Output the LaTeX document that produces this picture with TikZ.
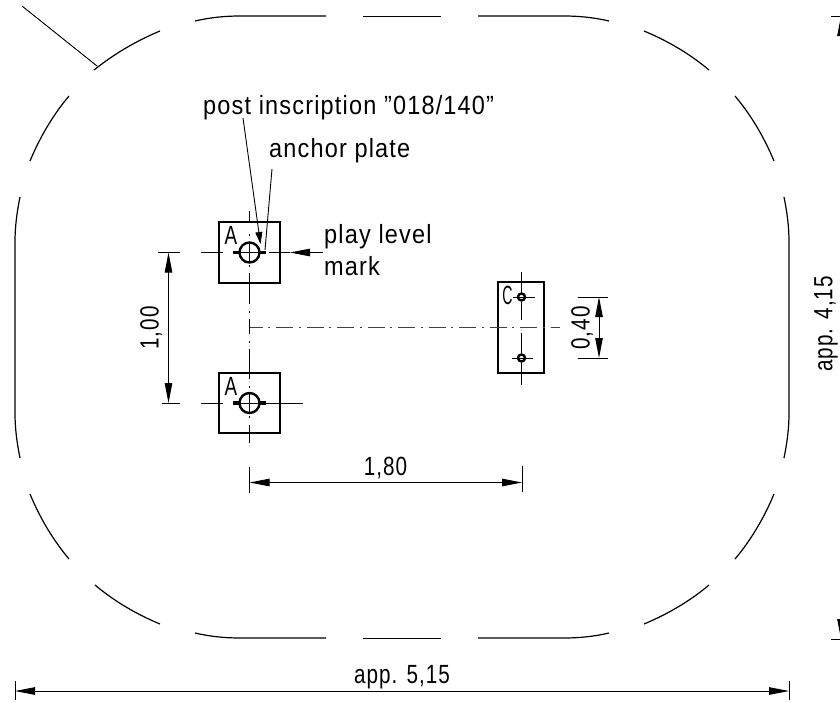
\documentclass[tikz,border=0pt]{standalone}
\usepackage{fontspec}
\setmainfont[LetterSpace=5]{Liberation Sans}
\usetikzlibrary{arrows.meta}
\tikzset{
  thin line/.style={line width=0.9pt,black},
  outline/.style={line width=1.2pt,black},
  thick line/.style={line width=2.4pt,black},
  stub/.style={line width=3.4pt,black},
  dimarrow/.style={line width=0.9pt,black,{Triangle[length=20pt,width=7.5pt]}-{Triangle[length=20pt,width=7.5pt]}},
  leader/.style={line width=0.9pt,black,-{Triangle[length=20pt,width=7.5pt]}},
  lbl/.style={inner sep=0pt,font=\fontsize{23.5}{28}\selectfont,yscale=1.12},
  num/.style={lbl,xscale=0.88},
  chain/.style={line width=0.9pt,black!75,dash pattern=on 17pt off 5.5pt on 2pt off 6pt,dash phase=4pt},
}
\begin{document}
\begin{tikzpicture}[x=1pt,y=-1pt]
\useasboundingbox (0,0) rectangle (840,702);
\begin{scope}
\clip (0,0) rectangle (840,702);
% outline pieces
\draw[outline] (195,21) .. controls (210,17.5) and (225,16) .. (240,16) -- (326,16);
\draw[thin line] (363,16) -- (441,16);
\draw[outline] (478,16) -- (564,16) .. controls (579,16) and (594,17.5) .. (609,21);
\draw[outline] (644,31) .. controls (668,41) and (690,54) .. (709,70);
\draw[outline] (735,96) .. controls (751,115) and (764,137) .. (774,161);
\draw[outline] (784,197) .. controls (787,212) and (789,226) .. (789,242) -- (789,413) .. controls (789,429) and (787,443) .. (784,458);
\draw[outline] (774,494) .. controls (764,518) and (751,540) .. (735,559);
\draw[outline] (709,585) .. controls (690,601) and (668,614) .. (644,624);
\draw[outline] (609,633) .. controls (594,636.5) and (579,638) .. (564,638) -- (478,638);
\draw[thin line] (441,638) -- (363,638);
\draw[outline] (326,638) -- (240,638) .. controls (225,638) and (210,636.5) .. (195,633);
\draw[outline] (160,624) .. controls (136,614) and (114,601) .. (95,585);
\draw[outline] (69,559) .. controls (53,540) and (40,518) .. (30,494);
\draw[outline] (20,458) .. controls (17,443) and (15,429) .. (15,413) -- (15,242) .. controls (15,226) and (17,212) .. (20,197);
\draw[outline] (30,161) .. controls (40,137) and (53,115) .. (69,96);
\draw[outline] (94,70) .. controls (114,54) and (136,41) .. (160,31);
\draw[thin line] (22,6) -- (97,66);
% plates
\draw[thick line] (219,222) rectangle (280,283);
\draw[thick line] (219,373) rectangle (280,433);
\draw[thick line] (498,282) rectangle (544,373);
% posts
\draw[thick line] (249.5,252.5) circle (10);
\draw[thick line] (249.5,403) circle (10);
\draw[stub] (233,252.5) -- (239,252.5) (260,252.5) -- (266,252.5);
\draw[stub] (233,403) -- (239,403) (260,403) -- (266,403);
\draw[thick line] (521.5,297) circle (3.5);
\draw[thick line] (521.5,358) circle (3.5);
% centre lines, post A upper
\draw[thin line] (201,252.5) -- (223,252.5) (239,252.5) -- (260,252.5) (269,252.5) -- (290,252.5);
\draw[thin line] (249.5,211) -- (249.5,223) (249.5,234) -- (249.5,236) (249.5,242) -- (249.5,263) (249.5,265) -- (249.5,267) (249.5,273) -- (249.5,304);
\draw[thin line] (249.5,311) -- (249.5,313) (249.5,319) -- (249.5,334) (249.5,341) -- (249.5,343) (249.5,349) -- (249.5,373);
% centre lines, post A lower
\draw[thin line] (201,403) -- (223,403) (239,403) -- (260,403) (266,403) -- (303,403);
\draw[thin line] (249.5,373) -- (249.5,379) (249.5,386) -- (249.5,388) (249.5,393) -- (249.5,413) (249.5,416) -- (249.5,418) (249.5,425) -- (249.5,443);
% C centre lines
\draw[thin line] (521.5,272) -- (521.5,293) (521.5,302) -- (521.5,320) (521.5,333) -- (521.5,353) (521.5,363) -- (521.5,385);
\draw[thin line] (513,297) -- (535,297) (512,358) -- (533,358);
% chain line
\draw[chain] (249.5,327.5) -- (560,327.5);
% labels
\node[lbl,anchor=base west] (post) at (203,114) {post inscription "018/140"};
\node[lbl,anchor=base west] (anchor) at (269,157) {anchor plate};
\node[lbl,anchor=base west] (level) at (324,243) {play level};
\node[lbl,anchor=base west] (mark) at (324,275) {mark};
\node[lbl,xscale=0.8] (a1) at (231,235.5) {A};
\node[lbl,xscale=0.8] (a2) at (231,386.5) {A};
\node[lbl,xscale=0.6] (c) at (507.5,295) {C};
\node[rotate=90,num] (d100) at (151,328) {1,00};
\node[num,anchor=base] (d180) at (385.5,475) {1,80};
\node[rotate=90,num] (d040) at (582,328) {0,40};
\node[num,anchor=base] (d515) at (402,683) {app. 5,15};
\node[rotate=90,num] (d415) at (826,324) {app. 4,15};
% leaders
\coordinate (t1) at (243,118); \coordinate (h1) at (260.5,244);
\draw[line width=0.9pt,-{Triangle[length=12pt,width=7pt]}] (t1) -- (h1);
\coordinate (t2) at (272,169); \coordinate (h2) at (265,250);
\draw[thin line] (t2) -- (h2);
\coordinate (t3) at (323,252.5); \coordinate (h3) at (290,252.5);
\draw[leader] (t3) -- (h3);
% dimensions
\draw[thin line] (158,252.5) -- (180,252.5) (162,403) -- (180,403);
\draw[dimarrow] (168.5,252.5) -- (168.5,403);
\draw[thin line] (578,297) -- (608,297) (578,358) -- (608,358);
\draw[dimarrow] (599,297) -- (599,358);
\draw[thin line] (249.5,467) -- (249.5,493) (522,466) -- (522,492);
\draw[dimarrow] (249.5,482.5) -- (522,482.5);
\draw[thin line] (15,681) -- (15,700) (789,681) -- (789,700);
\draw[dimarrow] (15,691) -- (789,691);
\draw[thin line] (831,16) -- (850,16) (831,639) -- (850,639);
\draw[dimarrow] (841,16) -- (841,639);
\end{scope}
\end{tikzpicture}
\end{document}
